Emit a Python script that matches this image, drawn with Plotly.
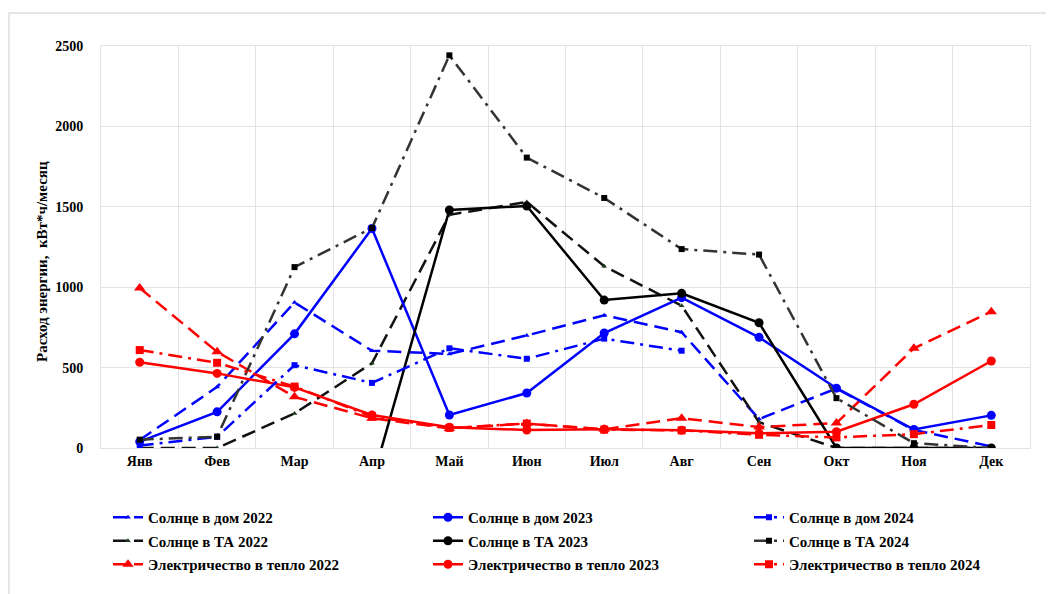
import plotly.graph_objects as go

# Months
months = ["Янв", "Фев", "Мар", "Апр", "Май", "Июн", "Июл", "Авг", "Сен", "Окт", "Ноя", "Дек"]

# Солнце в дом
sun_home_2022 = [50, 380, 905, 605, 585, 700, 825, 720, 180, 370, 112, 10]
sun_home_2023 = [40, 225, 710, 1365, 205, 342, 715, 935, 688, 372, 115, 203]
sun_home_2024 = [15, 70, 515, 405, 620, 555, 680, 605, None, None, None, None]

# Солнце в ТА
sun_ta_2022 = [0, 0, 215, 527, 1450, 1530, 1130, 885, 160, 0, 0, 0]
sun_ta_2023 = [None, None, None, -210, 1480, 1505, 920, 962, 779, 0, 0, 0]
sun_ta_2024 = [52, 70, 1125, 1368, 2442, 1806, 1555, 1237, 1203, 310, 30, 0]

# Электричество в тепло
el_2022 = [995, 598, 318, 185, 122, 152, 116, 185, 130, 155, 620, 848]
el_2023 = [533, 464, 377, 205, 129, 112, 116, 110, 91, 101, 272, 541]
el_2024 = [609, 530, 382, 195, 125, 152, 114, 110, 82, 66, 86, 143]

FONT = "Liberation Serif"
OFF = 8  # page body margin
W, H = 1054 - OFF, 594 - OFF
# plot area wanted on screen: x 101..1030, y 46..448
L, T = 101 - OFF, 46 - OFF
R, B = W - (1030 - OFF), H - (448 - OFF)
PW, PH = W - L - R, H - T - B

fig = go.Figure()

def add(name, y, color, dash, symbol, msize, legend, width=2.5, mcolor=None):
    fig.add_trace(go.Scatter(
        x=months, y=y, name=name, mode="lines+markers",
        line=dict(color=color, width=width, dash=dash),
        marker=dict(symbol=symbol, size=msize, color=mcolor or color),
        legend=legend, legendgroup=name))

DASH = "14px,7px"
DASHDOT = "14px,6px,3px,6px"

# one legend per column (2022 / 2023 / 2024)
add("Солнце в дом 2022", sun_home_2022, "#0000FF", DASH, "triangle-up", 5, "legend")
add("Солнце в ТА 2022", sun_ta_2022, "#111111", DASH, "triangle-up", 5, "legend", mcolor="#1f3a1f")
add("Электричество в тепло 2022", el_2022, "#FF0000", DASH, "triangle-up", 10, "legend")
add("Солнце в дом 2023", sun_home_2023, "#0000FF", "solid", "circle", 9, "legend2")
add("Солнце в ТА 2023", sun_ta_2023, "#000000", "solid", "circle", 9, "legend2")
add("Электричество в тепло 2023", el_2023, "#FF0000", "solid", "circle", 9, "legend2")
add("Солнце в дом 2024", sun_home_2024, "#0000FF", DASHDOT, "square", 6, "legend3")
add("Солнце в ТА 2024", sun_ta_2024, "#333333", DASHDOT, "square", 6, "legend3", mcolor="#000000")
add("Электричество в тепло 2024", el_2024, "#FF0000", DASHDOT, "square", 8, "legend3")

tickfont = dict(family=FONT, size=14, color="#000", weight="bold")
fig.update_xaxes(type="category", range=[-0.5, 11.5], tickson="boundaries",
                 showgrid=True, gridcolor="#e3e3e3", gridwidth=1,
                 ticks="", showline=True, linecolor="#e3e3e3", mirror=True,
                 tickfont=tickfont)
fig.update_yaxes(range=[0, 2500], tickvals=[0, 500, 1000, 1500, 2000, 2500],
                 showgrid=True, gridcolor="#e3e3e3", gridwidth=1, zeroline=False,
                 showline=True, linecolor="#e3e3e3", mirror=True, ticks="",
                 ticklabelstandoff=14, tickfont=tickfont)

# screen px -> paper coords
def px(x):
    return (x - OFF - L) / PW

def py(y):
    return (H - B - (y - OFF)) / PH

# y axis title (placed a bit below the plot centre, as in the original)
fig.add_annotation(text="<b>Расход энергии,  кВт*ч/месяц</b>", textangle=-90,
                   xref="paper", yref="paper", x=px(42), y=py(262),
                   xanchor="center", yanchor="middle",
                   showarrow=False, font=dict(family=FONT, size=15, color="#000"))

# outer chart border
fig.add_shape(type="rect", xref="paper", yref="paper",
              x0=px(9), x1=1.1, y0=-0.5, y1=py(13),
              line=dict(color="#dddddd", width=1.5), layer="below")

def leg(x):
    return dict(orientation="v", x=px(x), xanchor="left",
                y=py(501), yanchor="top", itemwidth=30,
                tracegroupgap=1, bgcolor="rgba(0,0,0,0)",
                font=dict(family=FONT, size=15, color="#000", weight="bold"))

fig.update_layout(
    width=W, height=H,
    margin=dict(l=L, r=R, t=T, b=B),
    plot_bgcolor="white", paper_bgcolor="white",
    font=dict(family=FONT, size=14, color="#000"),
    showlegend=True,
    legend=leg(108), legend2=leg(428), legend3=leg(749),
)

fig.write_html("out.html")
